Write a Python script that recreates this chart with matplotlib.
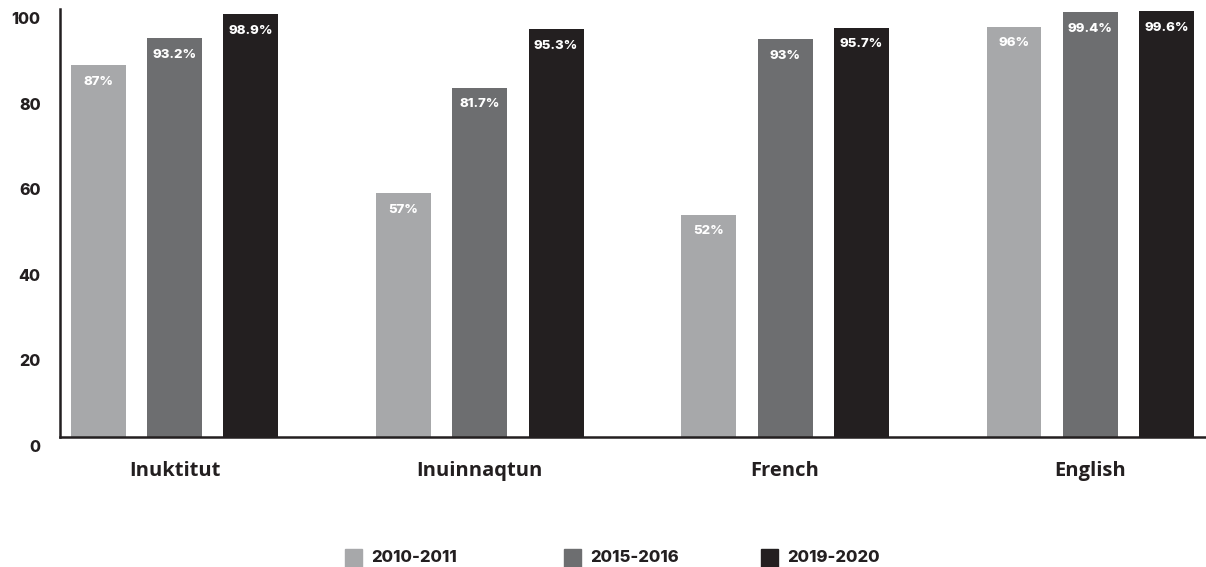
import numpy as np
import matplotlib
matplotlib.use("Agg")
import matplotlib.pyplot as plt
import matplotlib.transforms as mtransforms
from matplotlib.patches import Rectangle

plt.rcParams['font.family'] = ['Inter', 'DejaVu Sans']

languages = ['Inuktitut', 'Inuinnaqtun', 'French', 'English']
years = ['2010-2011', '2015-2016', '2019-2020']
v_2010 = [87, 57, 52, 96]
v_2015 = [93.2, 81.7, 93, 99.4]
v_2019 = [98.9, 95.3, 95.7, 99.6]
labels_2010 = ['87%', '57%', '52%', '96%']
labels_2015 = ['93.2%', '81.7%', '93%', '99.4%']
labels_2019 = ['98.9%', '95.3%', '95.7%', '99.6%']
yticks = [0, 20, 40, 60, 80, 100]

colors = ['#a7a8aa', '#6d6e70', '#231f20']
dark = '#231f20'

fig = plt.figure(figsize=(12.06, 5.67), dpi=100)
ax = fig.add_axes([60/1206, 1 - 437/567, 1 - 60/1206, (437 - 9.4)/567])

x = np.arange(len(languages))
w = 0.18
series = [v_2010, v_2015, v_2019]
labs = [labels_2010, labels_2015, labels_2019]
for k, (vals, lb) in enumerate(zip(series, labs)):
    bars = ax.bar(x + (k - 1) * 0.25, vals, w, color=colors[k], clip_on=False, zorder=2)
    for b, t in zip(bars, lb):
        ax.annotate(t, (b.get_x() + b.get_width() / 2, b.get_height()),
                    xytext=(0, -12), textcoords='offset points',
                    ha='center', va='center', color='white',
                    fontsize=9.5, fontweight='heavy')

ax.set_xlim(-0.375, 3.379)
ax.set_ylim(0, 100)
ax.set_yticks(yticks)
ax.set_yticklabels([str(v) for v in yticks], fontsize=11.5, fontweight='heavy', color=dark)
ax.set_xticks(x)
ax.set_xticklabels(languages, fontsize=14.5, fontweight='bold', color=dark,
                   family=['Open Sans', 'DejaVu Sans'])
ax.tick_params(axis='y', length=0, pad=14)
ax.tick_params(axis='x', length=0, pad=17)
off = mtransforms.ScaledTranslation(0, -0.09, fig.dpi_scale_trans)
for lab in ax.get_yticklabels():
    lab.set_transform(lab.get_transform() + off)

for s in ['top', 'right']:
    ax.spines[s].set_visible(False)
for s in ['left', 'bottom']:
    ax.spines[s].set_linewidth(1.8)
    ax.spines[s].set_color(dark)

# legend drawn by hand to match the uneven spacing
leg_x = [345, 564, 761]
for px, yr, c in zip(leg_x, years, colors):
    fig.patches.append(Rectangle((px / 1206, 0), 17/1206, 18/567,
                                 transform=fig.transFigure, color=c))
    fig.text((px + 26) / 1206, 1 - 558/567, yr, fontsize=12, fontweight='heavy',
             color=dark, va='center', ha='left')

fig.savefig('out.png', dpi=100)
